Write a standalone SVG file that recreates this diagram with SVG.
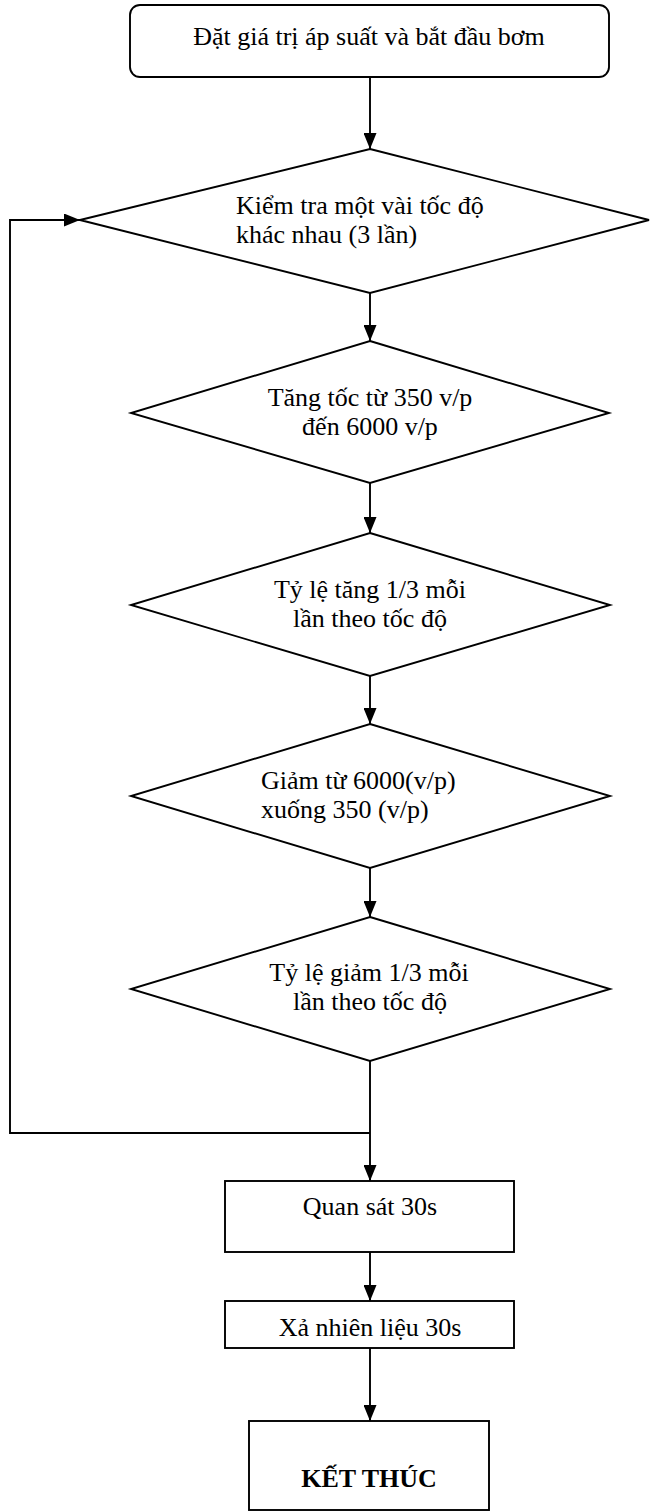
<svg xmlns="http://www.w3.org/2000/svg" width="650" height="1512" viewBox="0 0 650 1512">
<style>
.shape{fill:#fff;stroke:#000;stroke-width:1.9}
.edge{fill:none;stroke:#000;stroke-width:1.9}
text{font-family:"Liberation Serif","Times New Roman",serif;font-size:26px;fill:#000}
.c{text-anchor:middle}
.b{font-weight:bold}
</style>
<defs>
<marker id="arr" viewBox="0 0 16 13" refX="16" refY="6.5" markerWidth="16" markerHeight="13" markerUnits="userSpaceOnUse" orient="auto">
<path d="M0,0 L16,6.5 L0,13 Z" fill="#000"/>
</marker>
</defs>
<rect width="650" height="1512" fill="#fff"/>
<g id="connectors">
<line class="edge" x1="370" y1="77" x2="370" y2="149" marker-end="url(#arr)"/>
<line class="edge" x1="370" y1="293" x2="370" y2="341" marker-end="url(#arr)"/>
<line class="edge" x1="370" y1="483" x2="370" y2="533" marker-end="url(#arr)"/>
<line class="edge" x1="370" y1="676" x2="370" y2="724" marker-end="url(#arr)"/>
<line class="edge" x1="370" y1="868" x2="370" y2="917" marker-end="url(#arr)"/>
<line class="edge" x1="370" y1="1061" x2="370" y2="1181" marker-end="url(#arr)"/>
<polyline class="edge" points="370,1133 10,1133 10,220 80,220" marker-end="url(#arr)"/>
<line class="edge" x1="370" y1="1252" x2="370" y2="1301" marker-end="url(#arr)"/>
<line class="edge" x1="370" y1="1348" x2="370" y2="1421" marker-end="url(#arr)"/>
</g>
<g id="start">
<rect class="shape" x="130" y="5" width="479" height="72" rx="10" ry="10"/>
<text class="c" x="369" y="45">Đặt giá trị áp suất và bắt đầu bơm</text>
</g>
<g id="check">
<polygon class="shape" points="370,149 649,220 370,293 80,220"/>
<text x="236" y="214">Kiểm tra một vài tốc độ</text>
<text x="236" y="243">khác nhau (3 lần)</text>
</g>
<g id="accel">
<polygon class="shape" points="370,341 609,413 370,483 131,413"/>
<text class="c" x="370" y="406">Tăng tốc từ 350 v/p</text>
<text class="c" x="370" y="435">đến 6000 v/p</text>
</g>
<g id="ratio-up">
<polygon class="shape" points="370,533 610,605 370,676 131,605"/>
<text class="c" x="370" y="598">Tỷ lệ tăng 1/3 mỗi</text>
<text class="c" x="370" y="627">lần theo tốc độ</text>
</g>
<g id="decel">
<polygon class="shape" points="370,724 610,796 370,868 131,796"/>
<text x="261" y="789">Giảm từ 6000(v/p)</text>
<text x="261" y="818">xuống 350 (v/p)</text>
</g>
<g id="ratio-down">
<polygon class="shape" points="370,917 610,989 370,1061 131,989"/>
<text class="c" x="369" y="981">Tỷ lệ giảm 1/3 mỗi</text>
<text class="c" x="370" y="1010">lần theo tốc độ</text>
</g>
<g id="observe">
<rect class="shape" x="225" y="1181" width="289" height="71"/>
<text class="c" x="370" y="1215">Quan sát 30s</text>
</g>
<g id="drain">
<rect class="shape" x="225" y="1301" width="289" height="47"/>
<text class="c" x="370" y="1336">Xả nhiên liệu 30s</text>
</g>
<g id="end">
<rect class="shape" x="249" y="1421" width="240" height="89"/>
<text class="c b" x="369" y="1487">KẾT THÚC</text>
</g>
</svg>
